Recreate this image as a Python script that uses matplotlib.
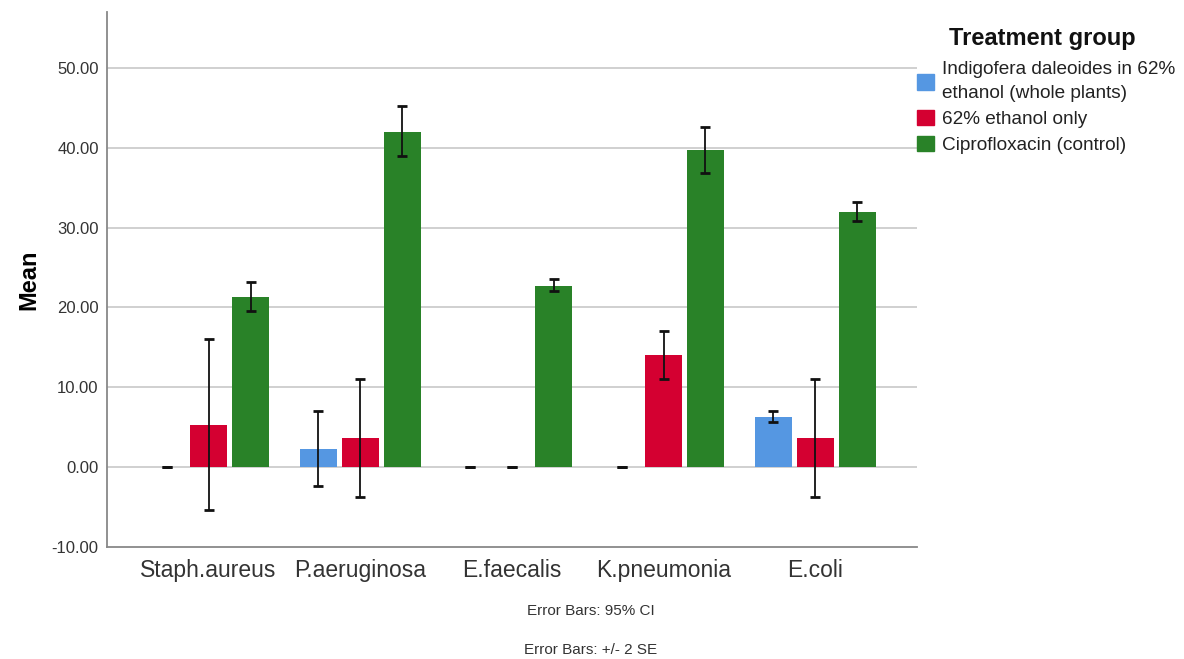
import numpy as np
import matplotlib
matplotlib.use("Agg")
import matplotlib.pyplot as plt
from matplotlib.patches import Patch

plt.rcParams['font.family'] = ['Liberation Sans', 'DejaVu Sans']

bacteria = ['Staph.aureus', 'P.aeruginosa', 'E.faecalis', 'K.pneumonia', 'E.coli']
groups = ['Indigofera daleoides in 62%\nethanol (whole plants)', '62% ethanol only', 'Ciprofloxacin (control)']
colors = ['#5597e2', '#d40031', '#298228']

# means and CI bounds
indigofera_mean = [0.0, 2.3, 0.0, 0.0, 6.3]
indigofera_low = [0.0, -2.4, 0.0, 0.0, 5.7]
indigofera_high = [0.0, 7.0, 0.0, 0.0, 7.0]

ethanol_mean = [5.3, 3.6, 0.0, 14.0, 3.6]
ethanol_low = [-5.4, -3.7, 0.0, 11.0, -3.7]
ethanol_high = [16.0, 11.0, 0.0, 17.1, 11.0]

cipro_mean = [21.3, 42.0, 22.7, 39.7, 32.0]
cipro_low = [19.6, 39.0, 22.0, 36.8, 30.8]
cipro_high = [23.2, 45.2, 23.5, 42.6, 33.2]

means = [indigofera_mean, ethanol_mean, cipro_mean]
lows = [indigofera_low, ethanol_low, cipro_low]
highs = [indigofera_high, ethanol_high, cipro_high]

fig = plt.figure(figsize=(11.84, 6.59), dpi=100)
ax = fig.add_axes([0.0904, 0.170, 0.684, 0.812])

x = np.arange(len(bacteria))
width = 0.243
step = 0.276
for i in range(3):
    m = np.array(means[i])
    lo = np.array(lows[i])
    hi = np.array(highs[i])
    pos = x + (i - 1) * step
    ax.bar(pos, m, width, color=colors[i], linewidth=0, zorder=3)
    ax.errorbar(pos, m, yerr=[m - lo, hi - m], fmt='none', ecolor='#111111',
                elinewidth=1.3, capsize=3.6, capthick=2, zorder=4)

ax.set_xlim(-0.67, 4.67)
ax.set_ylim(-10, 57)
ax.set_yticks([-10, 0, 10, 20, 30, 40, 50])
ax.set_yticklabels(['%.2f' % v for v in [-10, 0, 10, 20, 30, 40, 50]], fontsize=12, color='#333333')
ax.set_xticks(x)
ax.set_xticklabels(bacteria, fontsize=16.5, color='#333333')
ax.tick_params(axis='x', length=0, pad=9)
ax.tick_params(axis='y', length=0, pad=6)
for v in [0, 10, 20, 30, 40, 50]:
    ax.axhline(v, color='#c8c8c8', linewidth=1.2, zorder=1)
ax.spines['top'].set_visible(False)
ax.spines['right'].set_visible(False)
ax.spines['left'].set_color('#888888')
ax.spines['bottom'].set_color('#888888')
ax.spines['left'].set_linewidth(1.3)
ax.spines['bottom'].set_linewidth(1.3)
ax.set_ylabel('Mean', fontsize=17, fontweight='bold', labelpad=8)

# legend title placed separately so the gap matches
fig.text(0.880, 0.941, 'Treatment group', ha='center', va='center', fontsize=17,
         fontweight='bold', color='#111111')
handles = [Patch(facecolor=c, edgecolor=c) for c in colors]
leg = fig.legend(handles, groups, loc='upper left', bbox_to_anchor=(0.7635, 0.927),
                 frameon=False, fontsize=13.7,
                 handlelength=0.9, handleheight=0.9, handletextpad=0.4, labelspacing=0.4,
                 borderpad=0.2)
for t in leg.get_texts():
    t.set_color('#222222')
    t.set_linespacing(1.5)

fig.text(0.499, 0.073, 'Error Bars: 95% CI', ha='center', va='center', fontsize=11, color='#333333')
fig.text(0.499, 0.013, 'Error Bars: +/- 2 SE', ha='center', va='center', fontsize=11, color='#333333')

fig.savefig('out.png', dpi=100)
